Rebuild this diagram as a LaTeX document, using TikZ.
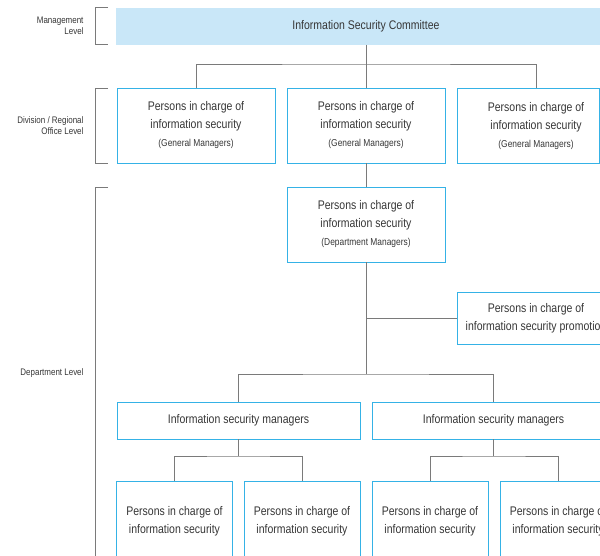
\documentclass[tikz,border=0pt]{standalone}
\usepackage{fontspec}
\setmainfont{Liberation Sans}[FakeStretch=0.84]
\definecolor{boxblue}{HTML}{35B2E6}
\definecolor{fillblue}{HTML}{C9E7F8}
\definecolor{linegray}{HTML}{7A7A7A}
\definecolor{textgray}{HTML}{363636}
\tikzset{
	box/.style={draw=boxblue, line width=0.9pt, text=textgray, align=center, inner sep=0pt, font=\fontsize{12.5}{18}\selectfont},
	conn/.style={draw=linegray, line width=1pt},
	lvl/.style={text=textgray, align=right, anchor=east, font=\fontsize{9.5}{11}\selectfont}
}
\newcommand{\smalltxt}[1]{{\fontsize{10}{11}\selectfont #1}}

\begin{document}
\begin{tikzpicture}[x=1pt,y=-1pt]
		\useasboundingbox (0,0) rectangle (600,555);
		\clip (0,0) rectangle (600,555);

		\node[box, draw=none, fill=fillblue, minimum width=500, minimum height=37] (committee) at (366,26) {Information Security Committee};

		\node[box, minimum width=158, minimum height=75] (div1) at (196,125.5) {Persons in charge of\\information security\\\smalltxt{(General Managers)}};
		\node[box, minimum width=158, minimum height=75] (div2) at (366,125.5) {Persons in charge of\\information security\\\smalltxt{(General Managers)}};
		\node[box, minimum width=142, minimum height=75] (div3) at (528,125.5) {\hspace*{16pt}\begin{tabular}{@{}c@{}}Persons in charge of\\information security\\\smalltxt{(General Managers)}\end{tabular}};

		\node[box, minimum width=158, minimum height=75] (dept) at (366,224.5) {Persons in charge of\\information security\\\smalltxt{(Department Managers)}};
		\node[box, minimum width=158, minimum height=52] (promo) at (536,318) {Persons in charge of\\information security promotion};

		\node[box, minimum width=243, minimum height=37] (isma) at (238.5,420.5) {Information security managers};
		\node[box, minimum width=243, minimum height=37] (ismb) at (493.5,420.5) {Information security managers};

		\node[box, minimum width=116, minimum height=80] (pa) at (174.5,521) {Persons in charge of\\information security};
		\node[box, minimum width=116, minimum height=80] (pb) at (302,521) {Persons in charge of\\information security};
		\node[box, minimum width=116, minimum height=80] (pc) at (430,521) {Persons in charge of\\information security};
		\node[box, minimum width=116, minimum height=80] (pd) at (558,521) {Persons in charge of\\information security};

		\coordinate (top) at (366,64);
		\coordinate (mid) at (366,374);
		\coordinate (lefta) at (238.5,456);
		\coordinate (leftb) at (493.5,456);

		\draw[conn] (committee) -- (div2);
		\draw[conn] (div1.north) |- (top) -| ([xshift=8pt]div3.north);
		\draw[conn] (div2) -- (dept);
		\draw[conn] (dept.south) -- (mid);
		\draw[conn] (dept.south |- promo.west) -- (promo.west);
		\draw[conn] (isma.north) |- (mid) -| (ismb.north);
		\draw[conn] (isma) -- (lefta);
		\draw[conn] (pa.north) |- (lefta) -| (pb.north);
		\draw[conn] (ismb) -- (leftb);
		\draw[conn] (pc.north) |- (leftb) -| (pd.north);

		\draw[conn] (108,7) -- (95,7) -- (95,44) -- (108,44);
		\draw[conn] (108,88) -- (95,88) -- (95,163) -- (108,163);
		\draw[conn] (108,187) -- (95,187) -- (95,560);

		\node[lvl] (mgmt) at (87,25.5) {Management\\Level};
		\node[lvl] (division) at (87,125.5) {Division / Regional\\Office Level};
		\node[lvl] (department) at (87,373) {Department Level};
	\end{tikzpicture}
\end{document}
